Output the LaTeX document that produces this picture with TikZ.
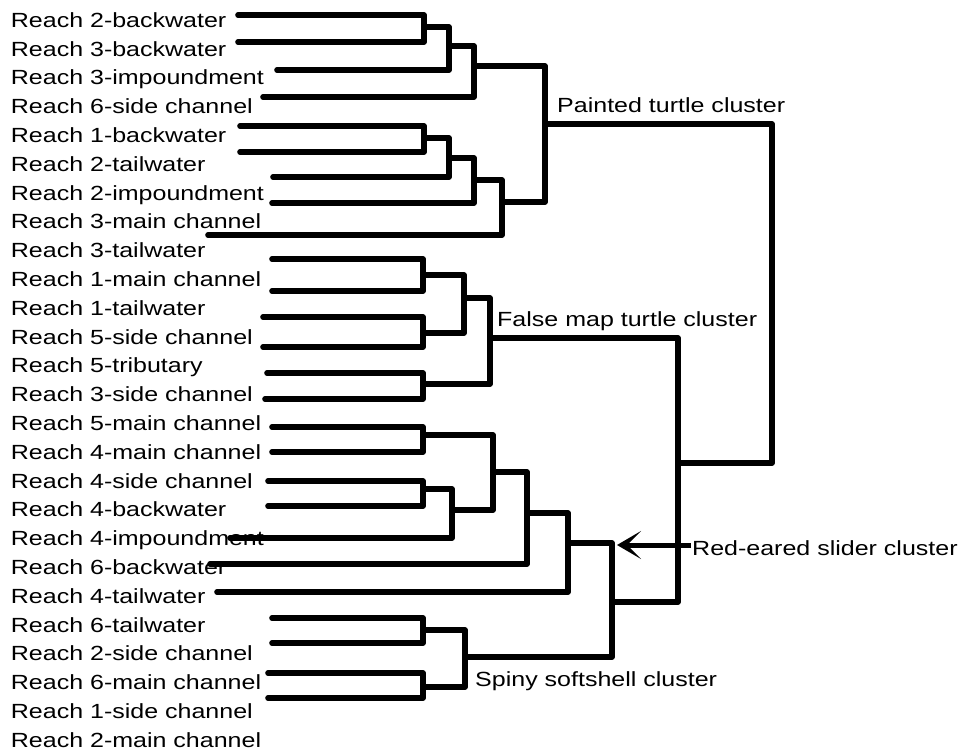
\documentclass[tikz,border=0pt]{standalone}
\usepackage{fontspec}
\setmainfont{Liberation Sans}[FakeStretch=1.22]
\usetikzlibrary{arrows.meta}
\begin{document}
\begin{tikzpicture}[x=1pt,y=-1pt,
  dline/.style={line width=5.6pt,line cap=round,line join=round},
  lab/.style={anchor=base west,inner sep=0pt,font=\fontsize{20.5}{24}\selectfont}]
\useasboundingbox (0,0) rectangle (965,754);
% leaf labels
\foreach [count=\i from 0] \t in {Reach 2-backwater,Reach 3-backwater,Reach 3-impoundment,Reach 6-side channel,Reach 1-backwater,Reach 2-tailwater,Reach 2-impoundment,Reach 3-main channel,Reach 3-tailwater,Reach 1-main channel,Reach 1-tailwater,Reach 5-side channel,Reach 5-tributary,Reach 3-side channel,Reach 5-main channel,Reach 4-main channel,Reach 4-side channel,Reach 4-backwater,Reach 4-impoundment,Reach 6-backwater,Reach 4-tailwater,Reach 6-tailwater,Reach 2-side channel,Reach 6-main channel,Reach 1-side channel,Reach 2-main channel}
  \node[lab] (lab\i) at (10.7,{27.3+28.8*\i}) {\t};
% Painted turtle cluster
\draw[dline] (238,15) -- (424,15) -- (424,42) -- (238,42);
\draw[dline] (424,27) -- (449,27) -- (449,70) -- (277,70);
\draw[dline] (449,46) -- (474,46) -- (474,97) -- (263,97);
\draw[dline] (474,66) -- (545,66) -- (545,202) -- (502,202);
\draw[dline] (240,126) -- (424,126) -- (424,152) -- (240,152);
\draw[dline] (424,138) -- (449,138) -- (449,177) -- (273,177);
\draw[dline] (449,158) -- (474,158) -- (474,203) -- (272,203);
\draw[dline] (474,180) -- (502,180) -- (502,235) -- (208,235);
\draw[dline] (545,124) -- (772,124) -- (772,463) -- (678,463);
% False map turtle cluster
\draw[dline] (272,259) -- (423,259) -- (423,291) -- (272,291);
\draw[dline] (263,317) -- (423,317) -- (423,347) -- (263,347);
\draw[dline] (423,275) -- (464,275) -- (464,333) -- (423,333);
\draw[dline] (267,373) -- (423,373) -- (423,399) -- (265,399);
\draw[dline] (464,298) -- (490,298) -- (490,384) -- (423,384);
\draw[dline] (490,338) -- (678,338) -- (678,602) -- (612,602);
% Red-eared slider cluster
\draw[dline] (272,427) -- (423,427) -- (423,452) -- (272,452);
\draw[dline] (268,481) -- (423,481) -- (423,506) -- (268,506);
\draw[dline] (423,489) -- (452,489) -- (452,538) -- (230,538);
\draw[dline] (423,435) -- (493,435) -- (493,510) -- (452,510);
\draw[dline] (493,472) -- (527,472) -- (527,564) -- (210,564);
\draw[dline] (527,513) -- (568,513) -- (568,592) -- (217,592);
\draw[dline] (568,543) -- (612,543) -- (612,657) -- (465,657);
% Spiny softshell cluster
\draw[dline] (272,618) -- (423,618) -- (423,643) -- (272,643);
\draw[dline] (268,673) -- (423,673) -- (423,698) -- (268,698);
\draw[dline] (423,630) -- (465,630) -- (465,687) -- (423,687);
% cluster labels
\node[lab] (painted) at (557,112.3) {Painted turtle cluster};
\node[lab] (falsemap) at (497,326.7) {False map turtle cluster};
\node[lab] (spiny) at (475,686.7) {Spiny softshell cluster};
\node[lab] (redeared) at (692,555) {Red-eared slider cluster};
\coordinate (arrtail) at (691,545);
\coordinate (arrtip) at (617,545);
\draw[line width=5pt,-{Stealth[length=24pt,width=28pt,inset=14pt]}] (arrtail) -- (arrtip);
\end{tikzpicture}
\end{document}
